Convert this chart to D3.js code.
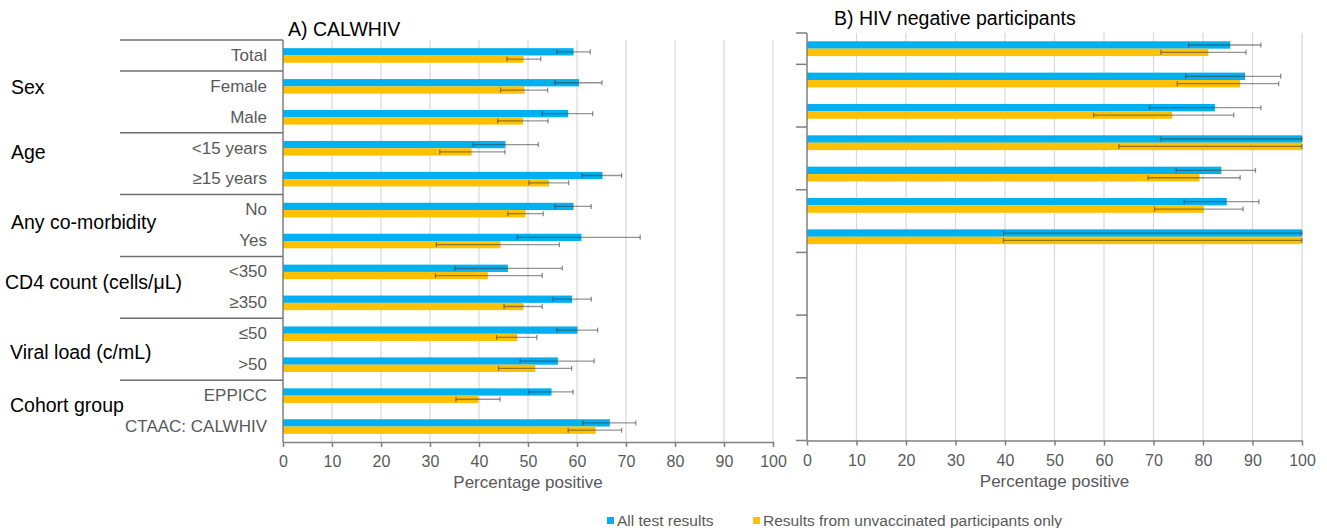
<!DOCTYPE html>
<html>
<head>
  <style type="text/css">
    body { margin: 0; background: #fff; }
    text { font-family: 'Liberation Sans', Arial, sans-serif; }
  </style>
</head>
<body>
  <svg width="1327" height="528" id="chart"></svg>
  <script src="https://d3js.org/d3.v7.min.js"></script>
  <script>

// rows, top to bottom
const rowLabels = ['Total', 'Female', 'Male', '<15 years', '≥15 years', 'No', 'Yes',
  '<350', '≥350', '≤50', '>50', 'EPPICC', 'CTAAC: CALWHIV']
const groupNames = ['Sex', 'Age', 'Any co-morbidity', 'CD4 count (cells/μL)', 'Viral load (c/mL)', 'Cohort group']
const groupFirstRow = [1, 3, 5, 7, 9, 11]
const seriesNames = ['All test results', 'Results from unvaccinated participants only']
const tickValues = [0, 10, 20, 30, 40, 50, 60, 70, 80, 90, 100]

// A) CALWHIV
const calAll     = [59.3, 60.4, 58.2, 45.4, 65.2, 59.3, 60.9, 45.9, 59.0, 60.1, 56.1, 54.8, 66.7]
const calAllLo   = [55.9, 55.5, 52.9, 38.8, 61.1, 55.5, 47.8, 35.1, 55.1, 55.9, 48.4, 50.2, 61.2]
const calAllHi   = [62.7, 65.1, 63.2, 52.1, 69.1, 62.9, 72.9, 57.0, 62.9, 64.2, 63.5, 59.2, 72.0]
const calUnvax   = [49.1, 49.3, 49.0, 38.5, 54.3, 49.5, 44.4, 41.8, 49.1, 47.8, 51.5, 39.9, 63.8]
const calUnvaxLo = [45.7, 44.4, 43.8, 32.0, 50.2, 45.9, 31.3, 31.1, 45.1, 43.6, 44.0, 35.3, 58.2]
const calUnvaxHi = [52.6, 54.0, 54.1, 45.3, 58.3, 53.1, 56.4, 52.9, 52.9, 51.8, 58.9, 44.3, 69.1]

// B) HIV negative participants (no CD4 / viral load / cohort rows)
const negAll     = [85.5, 88.5, 82.4, 100, 83.7, 84.8, 100, null, null, null, null, null, null]
const negAllLo   = [77.1, 76.5, 69.2, 71.5, 74.6, 76.2, 39.7, null, null, null, null, null, null]
const negAllHi   = [91.7, 95.7, 91.7, 100, 90.6, 91.3, 100, null, null, null, null, null, null]
const negUnvax   = [81.1, 87.5, 73.8, 100, 79.3, 80.2, 100, null, null, null, null, null, null]
const negUnvaxLo = [71.5, 74.8, 57.9, 63.0, 68.9, 70.2, 39.7, null, null, null, null, null, null]
const negUnvaxHi = [88.7, 95.3, 86.2, 100, 87.5, 88.1, 100, null, null, null, null, null, null]

const colors = ['#00B0F0', '#FFC000']
const textGrey = '#595959'
const axisGrey = '#7f7f7f'
const gridGrey = '#d9d9d9'

// group label placement (x, baseline offset from group middle)
const groupLabelX = [11, 11, 11, 5, 10, 10]
const groupLabelDy = [-7.8, -4.4, 3.8, 1.9, 10.1, 0.7]

function rowsFor(all, allLo, allHi, un, unLo, unHi) {
  return rowLabels.map((r, i) => ({
    row: r,
    bars: [
      { s: seriesNames[0], v: all[i], lo: allLo[i], hi: allHi[i] },
      { s: seriesNames[1], v: un[i], lo: unLo[i], hi: unHi[i] }
    ].filter(b => b.v != null)
  }))
}

const svg = d3.select('#chart')

function panel(opts) {
  const x = d3.scaleLinear().domain([0, 100]).range([opts.x0, opts.x1])
  const y = d3.scaleBand().domain(rowLabels).range([opts.y0, opts.y1])
  const ys = d3.scaleBand().domain(seriesNames).range([0, y.bandwidth()]).paddingOuter(1.12)
  const g = svg.append('g')

  // gridlines
  g.append('g').selectAll('line').data(tickValues.slice(1)).join('line')
    .attr('x1', d => x(d)).attr('x2', d => x(d))
    .attr('y1', opts.y0).attr('y2', opts.y1)
    .attr('stroke', gridGrey).attr('stroke-width', 1.2)

  // bars
  const rows = g.append('g').selectAll('g').data(opts.data).join('g')
    .attr('transform', d => 'translate(0,' + y(d.row) + ')')
  rows.selectAll('rect').data(d => d.bars).join('rect')
    .attr('x', x(0))
    .attr('y', d => ys(d.s))
    .attr('width', d => x(d.v) - x(0))
    .attr('height', ys.bandwidth())
    .attr('fill', (d, i) => colors[seriesNames.indexOf(d.s)])

  // error bars
  const eb = rows.selectAll('g.err').data(d => d.bars).join('g').attr('class', 'err')
    .attr('stroke', '#3a3a3a').attr('stroke-opacity', 0.55).attr('stroke-width', 1.3)
  eb.append('line')
    .attr('x1', d => x(d.lo)).attr('x2', d => x(d.hi))
    .attr('y1', d => ys(d.s) + ys.bandwidth() / 2).attr('y2', d => ys(d.s) + ys.bandwidth() / 2)
  ;['lo', 'hi'].forEach(k => {
    eb.append('line')
      .attr('x1', d => x(d[k])).attr('x2', d => x(d[k]))
      .attr('y1', d => ys(d.s) + ys.bandwidth() / 2 - 2.5)
      .attr('y2', d => ys(d.s) + ys.bandwidth() / 2 + 2.5)
  })

  // x axis
  const ax = g.append('g').attr('transform', 'translate(0,' + opts.y1 + ')')
    .call(d3.axisBottom(x).tickValues(tickValues).tickSize(5).tickSizeOuter(0).tickPadding(9))
  ax.select('.domain').attr('stroke', axisGrey).attr('stroke-width', 1.5)
  ax.selectAll('.tick line').attr('stroke', axisGrey).attr('stroke-width', 1.5)
  ax.selectAll('.tick text').attr('fill', textGrey).style('font-size', '16px')
    .style('font-family', "'Liberation Sans', Arial, sans-serif")

  g.append('text').attr('x', (opts.x0 + opts.x1) / 2).attr('y', opts.y1 + 46)
    .attr('text-anchor', 'middle').attr('fill', textGrey).style('font-size', '17px')
    .text('Percentage positive')

  // y axis line
  g.append('line').attr('x1', x(0)).attr('x2', x(0)).attr('y1', opts.y0).attr('y2', opts.y1)
    .attr('stroke', axisGrey).attr('stroke-width', 1.5)

  g.append('text').attr('x', opts.titleX).attr('y', opts.titleY)
    .attr('fill', '#000').style('font-size', '19.5px').text(opts.title)

  return { x, y, g }
}

const A = panel({
  x0: 283, x1: 773, y0: 40, y1: 442,
  data: rowsFor(calAll, calAllLo, calAllHi, calUnvax, calUnvaxLo, calUnvaxHi),
  title: 'A) CALWHIV', titleX: 288, titleY: 35.5
})

const B = panel({
  x0: 807, x1: 1302, y0: 33, y1: 440.5,
  data: rowsFor(negAll, negAllLo, negAllHi, negUnvax, negUnvaxLo, negUnvaxHi),
  title: 'B) HIV negative participants', titleX: 834, titleY: 25
})

// group boundaries: top of first row and top of each group
const boundaries = [rowLabels[0]].concat(groupFirstRow.map(i => rowLabels[i]))

// A: separators running left into the label area
A.g.append('g').selectAll('line').data(boundaries).join('line')
  .attr('x1', 120).attr('x2', A.x(0))
  .attr('y1', d => A.y(d)).attr('y2', d => A.y(d))
  .attr('stroke', '#6f6f6f').attr('stroke-width', 1.5)

// B: short outer ticks at group boundaries + bottom
B.g.append('g').selectAll('line').data(boundaries).join('line')
  .attr('x1', B.x(0) - 11).attr('x2', B.x(0))
  .attr('y1', d => B.y(d)).attr('y2', d => B.y(d))
  .attr('stroke', axisGrey).attr('stroke-width', 1.5)
B.g.append('line').attr('x1', B.x(0) - 11).attr('x2', B.x(0))
  .attr('y1', B.y.range()[1]).attr('y2', B.y.range()[1])
  .attr('stroke', axisGrey).attr('stroke-width', 1.5)

// row labels
A.g.append('g').selectAll('text').data(rowLabels).join('text')
  .attr('x', 267).attr('y', d => A.y(d) + A.y.bandwidth() / 2 + 5.3)
  .attr('text-anchor', 'end').attr('fill', textGrey).style('font-size', '17px')
  .text(d => d)

// group labels
A.g.append('g').selectAll('text').data(groupNames).join('text')
  .attr('x', (d, i) => groupLabelX[i])
  .attr('y', (d, i) => A.y(rowLabels[groupFirstRow[i]]) + A.y.bandwidth() + groupLabelDy[i])
  .attr('fill', '#000').style('font-size', '19.5px')
  .text(d => d)

// legend
const legendX = [607, 753]
const lg = svg.append('g').selectAll('g').data(seriesNames).join('g')
  .attr('transform', (d, i) => 'translate(' + legendX[i] + ',517)')
lg.append('rect').attr('width', 7).attr('height', 7).attr('fill', (d, i) => colors[i])
lg.append('text').attr('x', 10).attr('y', 9).attr('fill', textGrey)
  .style('font-size', '15.5px').text(d => d)

  </script>
</body>
</html>
